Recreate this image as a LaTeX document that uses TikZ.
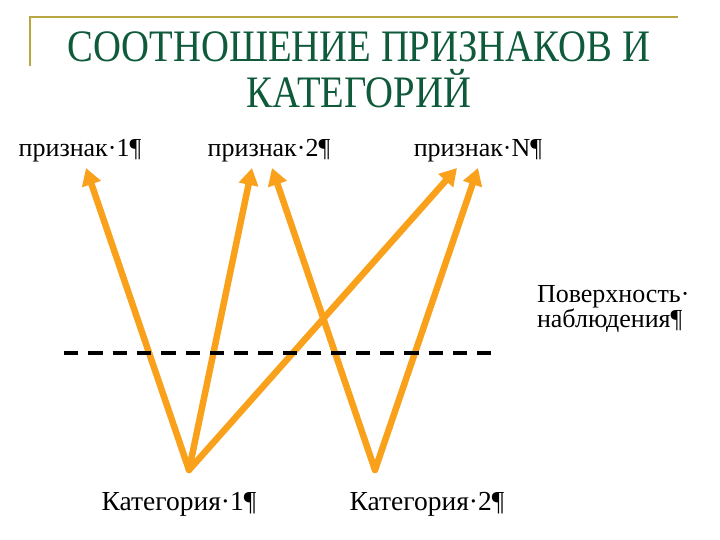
\documentclass[tikz,border=0pt]{standalone}
\usepackage{fontspec}
\setmainfont{Liberation Serif}
\newfontfamily\titlefont[FakeStretch=0.86]{Liberation Serif}
\usetikzlibrary{arrows.meta}
\definecolor{framegold}{HTML}{B8A640}
\definecolor{titlegreen}{HTML}{0E5A3A}
\definecolor{linkorange}{HTML}{F9A11B}

\begin{document}
\begin{tikzpicture}[x=1pt, y=-1pt,
    every node/.style = {inner sep=0pt, outer sep=0pt,
                         font=\fontsize{26}{25}\selectfont, text=black},
         title/.style = {font=\titlefont\fontsize{45}{46}\selectfont,
                         text=titlegreen, anchor=base},
      category/.style = {anchor=base, font=\fontsize{27.5}{28}\selectfont},
          link/.style = {draw=linkorange, line width=6.5pt, line cap=round,
                         -{Triangle[length=17pt, width=19pt]}},
       surface/.style = {draw=black, line width=4pt,
                         dash pattern=on 14.3pt off 10pt}]%
  \useasboundingbox (0,0) rectangle (720,540);
  % frame and title
  \draw [framegold, line width=2.5pt] (30,66) -- (30,17) -- (678,17);
  \node [title] (t1) at (359,62)  {СООТНОШЕНИЕ ПРИЗНАКОВ И};
  \node [title] (t2) at (359,108) {КАТЕГОРИЙ};
  % features
  \node [anchor=base] (f1) at (80,157)  {признак·1¶};
  \node [anchor=base] (f2) at (269,157) {признак·2¶};
  \node [anchor=base] (fN) at (478,157) {признак·N¶};
  % categories
  \node [category] (k1) at (179,510) {Категория·1¶};
  \node [category] (k2) at (427,510) {Категория·2¶};
  % observation surface
  \node [anchor=base west, align=left] (surf) at (537,327)
        {Поверхность·\\наблюдения¶};
  % arrow ends
  \coordinate (k1top) at (189,470);
  \coordinate (k2top) at (375,470);
  \coordinate (f1a) at (86,168);
  \coordinate (f2a) at (252,168);
  \coordinate (f2b) at (272,168);
  \coordinate (fNa) at (457,168);
  \coordinate (fNb) at (478,168);
  \draw [link] (k1top) -- (f1a);
  \draw [link] (k1top) -- (f2a);
  \draw [link] (k1top) -- (fNa);
  \draw [link] (k2top) -- (f2b);
  \draw [link] (k2top) -- (fNb);
  % dashed line
  \coordinate (s1) at (64,353);
  \coordinate (s2) at (492,353);
  \draw [surface] (s1) -- (s2);
\end{tikzpicture}
\end{document}
